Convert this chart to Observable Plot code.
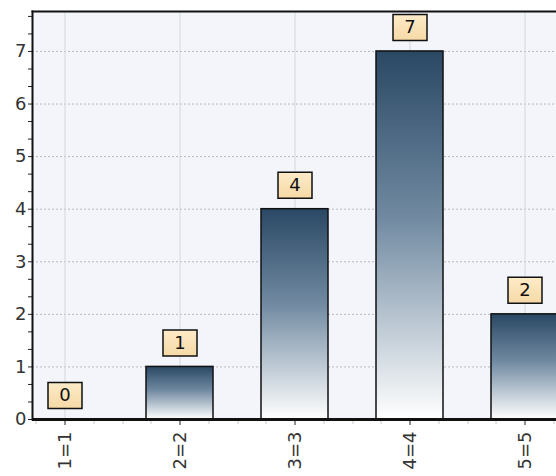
<!DOCTYPE html>
<html><head><meta charset="utf-8">
<script src="https://cdn.jsdelivr.net/npm/d3@7"></script>
<script src="https://cdn.jsdelivr.net/npm/@observablehq/plot@0.6"></script>
<style>body{margin:0;background:#fff}</style></head>
<body><div id="chart"></div>
<script>
const categories = ["1=1", "2=2", "3=3", "4=4", "5=5"];
const values = [0, 1, 4, 7, 2];
const yTicks = [0, 1, 2, 3, 4, 5, 6, 7];
const data = categories.map((c, i) => ({cat: c, value: values[i]}));
const yMinor = d3.range(0, 7.7, 1 / 3);

const boxSymbol = {draw(ctx) { ctx.rect(-17, -13, 34, 26); }};

const defs = () => {
  const d = d3.create("svg:defs");
  const g = d.append("linearGradient").attr("id", "barGrad")
    .attr("x1", 0).attr("y1", 0).attr("x2", 0).attr("y2", 1);
  g.append("stop").attr("offset", "0%").attr("stop-color", "#2a4864");
  g.append("stop").attr("offset", "45%").attr("stop-color", "#7089a1");
  g.append("stop").attr("offset", "100%").attr("stop-color", "#ffffff");
  const b = d.append("linearGradient").attr("id", "boxGrad")
    .attr("x1", 0).attr("y1", 0).attr("x2", 0).attr("y2", 1);
  b.append("stop").attr("offset", "0%").attr("stop-color", "#fdebc8");
  b.append("stop").attr("offset", "100%").attr("stop-color", "#f6d9a6");
  return d.node();
};

const chart = Plot.plot({
  width: 556,
  height: 476,
  marginLeft: 32,
  marginRight: 0,
  marginTop: 11,
  marginBottom: 57,
  style: {fontFamily: "DejaVu Sans, Verdana, sans-serif", fontSize: "17px", color: "#333", background: "#fff"},
  x: {domain: categories, range: [-19, 609], padding: 0.414, label: null},
  y: {domain: [0, 7.76], label: null},
  marks: [
    defs,
    Plot.frame({fill: "#f3f5fb", stroke: null}),
    Plot.gridY(yTicks.slice(1), {stroke: "#b4b8c0", strokeOpacity: 1, strokeDasharray: "2,2", strokeWidth: 1}),
    Plot.gridX(categories, {stroke: "#d3d7df", strokeOpacity: 1, strokeWidth: 1}),
    Plot.barY(data, {x: "cat", y: "value", fill: "url(#barGrad)", stroke: "#111", strokeWidth: 1.5}),
    Plot.axisY(yMinor, {tickSize: 4, text: null, stroke: "#222", strokeWidth: 1}),
    Plot.axisY(yTicks, {tickSize: 0, tickPadding: 6, fontSize: 18, fill: "#333", tickFormat: d => d}),
    Plot.axisX({tickSize: 5, dx: -29, text: null, stroke: "#c8c8c8"}),
    Plot.axisX({tickSize: 5, dx: 29, text: null, stroke: "#c8c8c8"}),
    Plot.axisX({tickSize: 5, dx: 58, text: null, stroke: "#c8c8c8"}),
    Plot.axisX({tickSize: 6, tickRotate: -90, tickPadding: 6, fontSize: 18, fill: "#333", stroke: "#222"}),
    Plot.frame({anchor: "left", stroke: "#111", strokeWidth: 2}),
    Plot.frame({anchor: "top", stroke: "#111", strokeWidth: 2}),
    Plot.ruleY([0], {stroke: "#111", strokeWidth: 3}),
    Plot.dot(data, {x: "cat", y: "value", dy: -24, symbol: boxSymbol, r: 10, fill: "url(#boxGrad)", stroke: "#111", strokeWidth: 1.5}),
    Plot.text(data, {x: "cat", y: "value", dy: -24, text: d => String(d.value), fontSize: 18, fill: "#111"})
  ]
});
document.getElementById("chart").appendChild(chart);
</script>
</body></html>
